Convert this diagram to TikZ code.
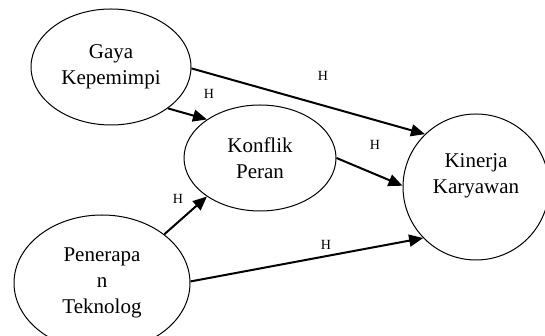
\documentclass[tikz,border=0pt]{standalone}
\usepackage{fontspec}
\setmainfont{Liberation Serif}
\usetikzlibrary{shapes.geometric,arrows.meta}

\tikzset{
  var/.style={draw, ellipse, line width=1pt, inner sep=0pt, align=center,
    font=\fontsize{21}{26}\selectfont},
  path/.style={-{Triangle[length=14pt,width=12pt]}, line width=2pt},
  hlab/.style={font=\fontsize{14}{14}\selectfont, inner sep=0pt}
}

\begin{document}
\begin{tikzpicture}[x=1pt,y=1pt]
	\useasboundingbox (0,0) rectangle (545,336);
	% variables
	\node[var, minimum width=160, minimum height=116] (gaya) at (111,269) {Gaya\\Kepemimpi};
	\node[var, minimum width=152, minimum height=106] (konflik) at (260,178) {Konflik\\Peran};
	\node[var, minimum width=146, minimum height=146] (kinerja) at (476,149) {Kinerja\\Karyawan\\\mbox{}};
	\node[var, minimum width=176, minimum height=136] (penerapan) at (102,53) {Penerapa\\n\\Teknolog};

	% paths
	\draw[path] (gaya.-1) -- (kinerja.134);
	\draw[path] (gaya.-36) -- (konflik.144);
	\draw[path] (konflik.0) -- (kinerja.179);
	\draw[path] (penerapan.38) -- (konflik.216);
	\draw[path] (penerapan.1) -- (kinerja.224);

	% label
	\node[hlab] (h1) at (323,260) {H};
	\node[hlab] (h2) at (209,242) {H};
	\node[hlab] (h3) at (375,191) {H};
	\node[hlab] (h4) at (178,137) {H};
	\node[hlab] (h5) at (326,91) {H};
\end{tikzpicture}
\end{document}
